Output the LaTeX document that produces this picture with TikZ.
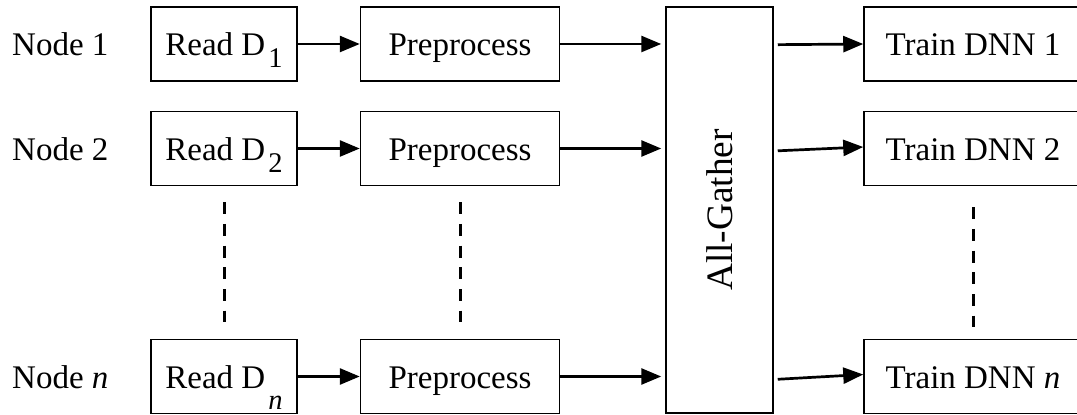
\documentclass[tikz,border=0pt]{standalone}
\usepackage{fontspec}
\setmainfont{Liberation Serif}
\usetikzlibrary{arrows.meta}

% lowered subscript with its own size
\newcommand{\lowsub}[2]{\kern3pt\raisebox{-#1}{\fontsize{28.5}{30}\selectfont #2}}

\tikzset{
  stage/.style={draw, line width=1.5pt, inner sep=0pt, minimum height=74pt,
    text height=24pt, text depth=0pt,
    font=\fontsize{33}{38}\selectfont},
  rowlabel/.style={anchor=base west, inner sep=0pt, font=\fontsize{33}{38}\selectfont},
  flow/.style={line width=2.7pt, -{Triangle[length=20pt,width=16pt]}},
  gap/.style={line width=3pt, dash pattern=on 12pt off 9.7pt}
}

\begin{document}
\begin{tikzpicture}[x=1pt,y=1pt]
  \useasboundingbox (0,0) rectangle (1077,415);
  \clip (0,0) rectangle (1077,415);
  \fill[white] (0,0) rectangle (1077,415);

  % row labels
  \node[rowlabel] (lab1) at (12,359) {Node 1};
  \node[rowlabel] (lab2) at (12,254.5) {Node 2};
  \node[rowlabel] (labn) at (12,26.5) {Node \textit{n}};

  % read stage
  \node[stage, minimum width=146pt] (read1) at (224,371) {Read D\lowsub{12pt}{1}};
  \node[stage, minimum width=146pt] (read2) at (224,266.5) {Read D\lowsub{12pt}{2}};
  \node[stage, minimum width=146pt] (readn) at (224,38.5) {Read D\lowsub{21pt}{\textit{n}}};

  % preprocess stage
  \node[stage, minimum width=199pt] (pre1) at (460,371) {Preprocess};
  \node[stage, minimum width=199pt] (pre2) at (460,266.5) {Preprocess};
  \node[stage, minimum width=199pt] (pren) at (460,38.5) {Preprocess};

  % collective exchange
  \node[draw, line width=1.5pt, minimum width=107pt, minimum height=406pt, inner sep=0pt] (ag) at (719.5,205) {};
  \node[rotate=90, inner sep=0pt, font=\fontsize{37.3}{42}\selectfont] (agtext) at (ag.center) {All-Gather};

  % training stage
  \node[stage, minimum width=218pt] (t1) at (973,371) {Train DNN 1};
  \node[stage, minimum width=218pt] (t2) at (973,266.5) {Train DNN 2};
  \node[stage, minimum width=218pt] (tn) at (973,38.5) {Train DNN \textit{n}};

  % read -> preprocess
  \draw[flow] (read1) -- (pre1);
  \draw[flow] (read2) -- (pre2);
  \draw[flow] (readn) -- (pren);

  % preprocess -> all-gather
  \draw[flow, shorten >=4pt] (pre1.east) -- (pre1.east -| ag.west);
  \draw[flow, shorten >=4pt] (pre2.east) -- (pre2.east -| ag.west);
  \draw[flow, shorten >=4pt] (pren.east) -- (pren.east -| ag.west);

  % all-gather -> training
  \draw[flow, shorten <=4pt] ([yshift=-0.7pt]ag.east |- t1.west) -- (t1.west);
  \draw[flow, shorten <=4pt] ([yshift=-2.5pt]ag.east |- t2.west) -- ([yshift=1.5pt]t2.west);
  \draw[flow, shorten <=4pt] ([yshift=-3pt]ag.east |- tn.west) -- ([yshift=2pt]tn.west);

  % elided rows
  \draw[gap] ([yshift=-16pt]read2.south) -- ([yshift=17pt]readn.north);
  \draw[gap] ([yshift=-16pt]pre2.south) -- ([yshift=17pt]pren.north);
  \draw[gap] ([yshift=-21pt]t2.south) -- ([yshift=12pt]tn.north);
\end{tikzpicture}
\end{document}
